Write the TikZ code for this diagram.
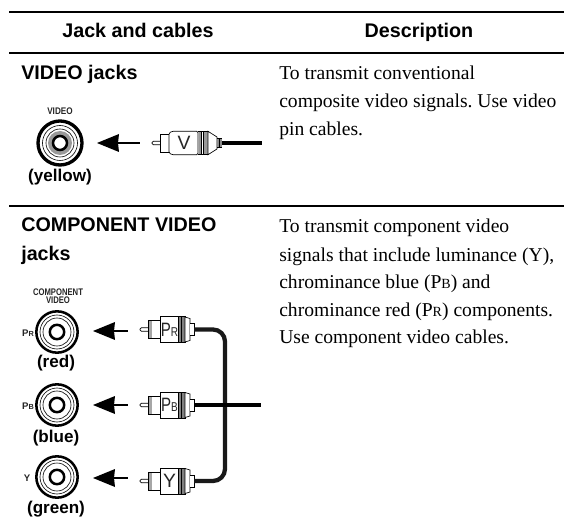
\documentclass[tikz,border=0pt]{standalone}
\usepackage{fontspec}
\setmainfont{Liberation Serif}
\setsansfont{Liberation Sans}
\newcommand{\fsz}[1]{\fontsize{#1}{#1}\selectfont}
\tikzset{
  x=0.75pt,y=-0.75pt,
  rulethick/.style={line width=1.6pt,black},
  headtxt/.style={font=\sffamily\bfseries\fsz{14.8},anchor=base,inner sep=0},
  titletxt/.style={font=\sffamily\bfseries\fsz{14.8},anchor=base west,inner sep=0},
  bodytxt/.style={font=\frenchspacing\fsz{14.7},anchor=base west,inner sep=0},
  colourtxt/.style={font=\sffamily\bfseries\fsz{12.8},anchor=base,inner sep=0},
  jacktxt/.style={font=\sffamily\bfseries\fsz{7.2},anchor=center,inner sep=0,text=black!85,align=center},
  cable/.style={line width=3.2pt,black!90,rounded corners=9pt},
  pin/.style={draw=black,line width=0.5pt,fill=white},
  arrowline/.style={line width=1.2pt,black},
  arrowhd/.style={fill=black,draw=none},
}
\newcommand{\jackV}[3]{%
  \node[circle,draw=black,line width=2.5pt,minimum size=33pt,inner sep=0,fill=white] (#3) at (#1,#2) {};
  \draw[line width=0.45pt] (#1,#2) circle[radius=17.5];
  \draw[line width=0.45pt] (#1,#2) circle[radius=14];
  \fill[black!40] (#1,#2) circle[radius=12];
  \draw[line width=1.9pt,fill=white] (#1,#2) circle[radius=7];
}
\newcommand{\jackC}[3]{%
  \node[circle,draw=black,line width=1.9pt,minimum size=31pt,inner sep=0,fill=white] (#3) at (#1,#2) {};
  \draw[line width=0.45pt] (#1,#2) circle[radius=17];
  \draw[line width=0.45pt] (#1,#2) circle[radius=14];
  \draw[line width=1.9pt,fill=white] (#1,#2) circle[radius=7.2];
}
\newcommand{\plugV}[4]{%
  \begin{scope}[shift={(#1,#2)}]
    \draw[pin,rounded corners=1pt] (8,-1.8) -- (0,-1.8) -- (0,1.8) -- (8,1.8);
    \draw[pin] (8,-9) -- (17,-9) -- (17,9) -- (8,9) -- cycle;
    \draw[pin,rounded corners=1pt] (17,-10) -- (20,-11.7) -- (46,-11.7) -- (46,11.7) -- (20,11.7) -- (17,10) -- cycle;
    \fill[black!40] (47,-11.2) rectangle (56,11.2);
    \draw[line width=0.5pt] (46,-11.7) -- (56,-11.7) -- (56,11.7) -- (46,11.7);
    \fill[white] (49,-11.2) rectangle (51.5,11.2);
    \draw[line width=0.5pt] (49,-11.7) -- (49,11.7) (51.5,-11.7) -- (51.5,11.7);
    \draw[pin] (56,-11.7) -- (65,-6) -- (65,6) -- (56,11.7) -- cycle;
    \fill[black!45] (65,-4.5) rectangle (70,4.5);
    \draw[line width=0.5pt] (65,-4.5) -- (70,-4.5) (65,4.5) -- (70,4.5) (67,-4.5) -- (67,4.5);
    \coordinate (#4end) at (70,0);
    \node[font=\sffamily\fsz{14.5},inner sep=0,text=black!85] (#4label) at (32,0) {#3};
  \end{scope}
}
\newcommand{\plugC}[4]{%
  \begin{scope}[shift={(#1,#2)}]
    \draw[pin,rounded corners=1pt] (8,-1.8) -- (0,-1.8) -- (0,1.8) -- (8,1.8);
    \draw[pin] (8,-9) -- (20,-9) -- (20,9) -- (8,9) -- cycle;
    \fill[black!35] (8.5,-8.5) rectangle (12,8.5);
    \draw[pin] (20,-13) -- (38,-13) -- (38,13) -- (20,13) -- cycle;
    \fill[black!50] (38.5,-12.5) rectangle (45,12.5);
    \draw[line width=0.5pt] (38,-13) -- (45,-13) -- (45,13) -- (38,13);
    \draw[line width=0.9pt] (41.5,-13) -- (41.5,13);
    \draw[pin] (45,-12.5) -- (50,-11) -- (50,11) -- (45,12.5) -- cycle;
    \draw[pin] (50,-6) -- (54,-6) -- (54,6) -- (50,6);
    \coordinate (#4end) at (54,0);
    \node[font=\sffamily\fsz{14.5},inner sep=0,text=black!85] (#4label) at (29.5,0) {#3};
  \end{scope}
}
\newcommand{\bigarrow}[3]{% x y taillength
  \fill[arrowhd] (#1,#2) -- (#1+22,#2-9) -- (#1+21,#2) -- (#1+22,#2+9) -- cycle;
  \draw[arrowline] (#1+18,#2) -- (#1+#3,#2);
}
\newcommand{\subsmB}[1]{{\fontsize{10.5}{10.5}\selectfont #1}}
\newcommand{\subsmP}[1]{{\fontsize{9.6}{9.6}\selectfont #1}}
\begin{document}
\begin{tikzpicture}
\useasboundingbox (0,0) rectangle (564,527);
\fill[white] (0,0) rectangle (564,527);
\coordinate (r1a) at (9,12); \coordinate (r1b) at (564,12);
\coordinate (r2a) at (9,52.7); \coordinate (r2b) at (564,52.7);
\coordinate (r3a) at (9,206); \coordinate (r3b) at (564,206);
\draw[rulethick] (r1a) -- (r1b);
\draw[rulethick] (r2a) -- (r2b);
\draw[rulethick] (r3a) -- (r3b);
\node[headtxt] (h1) at (138,37.7) {Jack and cables};
\node[headtxt] (h2) at (419,37.7) {Description};
\node[titletxt] (t1) at (21,80) {VIDEO jacks};
\node[titletxt] (t2) at (21,232) {COMPONENT VIDEO};
\node[titletxt] (t3) at (21,260.7) {jacks};
\node[bodytxt] (b1) at (279,80) {To transmit conventional};
\node[bodytxt] (b2) at (279,107.7) {composite video signals. Use video};
\node[bodytxt] (b3) at (279,135.7) {pin cables.};
\node[bodytxt] (c1) at (279,233) {To transmit component video};
\node[bodytxt] (c2) at (279,261.5) {signals that include luminance (Y),};
\node[bodytxt] (c3) at (279,289) {chrominance blue (P\subsmB{B}) and};
\node[bodytxt] (c4) at (279,316.7) {chrominance red (P\subsmB{R}) components.};
\node[bodytxt] (c5) at (279,344) {Use component video cables.};
% VIDEO
\node[jacktxt] (lv) at (60,111) {\scalebox{0.85}[1]{VIDEO}};
\jackV{60}{143}{jv}
\node[colourtxt] (yel) at (60,181.7) {(yellow)};
\bigarrow{97}{143}{43}
\plugV{152}{143}{V}{pv}
\draw[line width=3.6pt,black] (pvend) -- (262,143);
% COMPONENT
\node[jacktxt] (lc) at (58,296) {\scalebox{0.8}[1]{COMPONENT}\\[-0.8pt]\scalebox{0.8}[1]{VIDEO}};
\jackC{57}{332}{jr}
\jackC{57}{405}{jb}
\jackC{57}{477}{jy}
\node[jacktxt] (lr) at (28,333) {P\fontsize{5.5}{5.5}\selectfont R};
\node[jacktxt] (lb) at (28,406) {P\fontsize{5.5}{5.5}\selectfont B};
\node[jacktxt] (ly) at (27,478) {Y};
\node[colourtxt] (red) at (56,368) {(red)};
\node[colourtxt] (blu) at (56,442.7) {(blue)};
\node[colourtxt] (gre) at (56,513.7) {(green)};
\bigarrow{93}{331}{35}
\bigarrow{93}{405}{35}
\bigarrow{93}{478}{35}
\plugC{140}{329.5}{\scalebox{0.78}[1]{P\subsmP{R}}}{pr}
\plugC{140}{405}{\scalebox{0.78}[1]{P\subsmP{B}}}{pb}
\plugC{140}{481}{Y}{py}
\draw[cable] (prend) -- (225,329.5) -- (225,481) -- (pyend);
\draw[line width=3.2pt,black] (pbend) -- (261,405);
\end{tikzpicture}
\end{document}
